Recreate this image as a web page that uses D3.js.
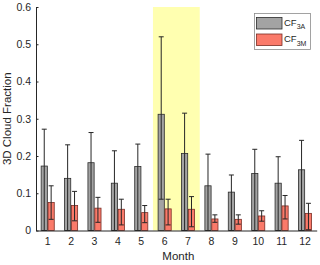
<!DOCTYPE html>
<html>
<head>
<meta charset="utf-8">
<script src="https://cdn.jsdelivr.net/npm/d3@7"></script>
<style>
  body { margin: 0; background: #fff; }
  text { font-family: "Liberation Sans", Arial, sans-serif; fill: #262626; }
</style>
</head>
<body>
<div id="chart"></div>
<script>
// monthly values
var months = [1, 2, 3, 4, 5, 6, 7, 8, 9, 10, 11, 12];
var cf3a = [0.173, 0.140, 0.182, 0.127, 0.172, 0.312, 0.207, 0.120, 0.103, 0.153, 0.127, 0.163];
var cf3aUpper = [0.272, 0.230, 0.263, 0.214, 0.232, 0.520, 0.315, 0.205, 0.149, 0.218, 0.198, 0.242];
var cf3aLower = [0, 0, 0, 0, 0, 0.084, 0, 0, 0, 0, 0, 0];
var cf3m = [0.075, 0.067, 0.060, 0.057, 0.048, 0.058, 0.057, 0.031, 0.030, 0.039, 0.066, 0.046];
var cf3mUpper = [0.120, 0.105, 0.089, 0.084, 0.067, 0.084, 0.091, 0.042, 0.042, 0.053, 0.094, 0.073];
var cf3mLower = [0.030, 0.026, 0.022, 0.015, 0.021, 0.015, 0.010, 0.022, 0.017, 0.025, 0.031, 0.002];
var yTicks = [0, 0.1, 0.2, 0.3, 0.4, 0.5, 0.6];
var highlight = [6, 7];   // shaded months

var width = 320, height = 265;
var margin = {top: 7, right: 3.3, bottom: 35, left: 36};

var svg = d3.select("#chart").append("svg")
    .attr("width", width)
    .attr("height", height);

var x = d3.scaleBand()
    .domain(months)
    .range([margin.left, width - margin.right])
    .paddingInner(0.44)
    .paddingOuter(0.22);
var xs = d3.scaleBand()
    .domain(["3A", "3M"])
    .range([0, x.bandwidth()])
    .paddingInner(0.1);
var y = d3.scaleLinear()
    .domain([0, 0.6])
    .range([height - margin.bottom + 0.5, margin.top]);

// shaded months band
var step = x.step();
svg.append("rect")
    .attr("x", x(highlight[0]) + x.bandwidth() / 2 - step / 2)
    .attr("y", y(0.6))
    .attr("width", step * highlight.length)
    .attr("height", y(0) - y(0.6))
    .style("fill", "#ffffb0");

var series = [
    {key: "3A", vals: cf3a, up: cf3aUpper, lo: cf3aLower, fill: "#a3a3a3", stroke: "#2b2b2b", err: "#262626"},
    {key: "3M", vals: cf3m, up: cf3mUpper, lo: cf3mLower, fill: "#fa7a6a", stroke: "#7a2d25", err: "#262626"}
];

series.forEach(function(s) {
    var cx = function(d, i) { return x(months[i]) + xs(s.key) + xs.bandwidth() / 2; };
    svg.selectAll(null)
        .data(s.vals)
        .enter()
        .append("rect")
            .attr("x", function(d, i) { return x(months[i]) + xs(s.key); })
            .attr("y", function(d) { return y(d); })
            .attr("width", xs.bandwidth())
            .attr("height", function(d) { return y(0) - y(d); })
            .style("fill", s.fill)
            .style("stroke", s.stroke)
            .style("stroke-width", 0.8);

    // error bars
    svg.selectAll(null)
        .data(s.vals)
        .enter()
        .append("line")
            .attr("x1", cx).attr("x2", cx)
            .attr("y1", function(d, i) { return y(s.up[i]); })
            .attr("y2", function(d, i) { return y(s.lo[i]); })
            .style("stroke", s.err)
            .style("stroke-width", 1);
    [s.up, s.lo].forEach(function(arr) {
        svg.selectAll(null)
            .data(arr)
            .enter()
            .append("line")
                .attr("x1", function(d, i) { return cx(d, i) - 2.5; })
                .attr("x2", function(d, i) { return cx(d, i) + 2.5; })
                .attr("y1", function(d) { return y(d); })
                .attr("y2", function(d) { return y(d); })
                .style("stroke", s.err)
                .style("stroke-width", 1);
    });
});

// axes
var yAxis = svg.append("g")
    .attr("transform", "translate(" + margin.left + ",0)")
    .call(d3.axisLeft(y).tickValues(yTicks).tickFormat(d3.format("")).tickSizeInner(-2.5).tickSizeOuter(0).tickPadding(5));
var xAxis = svg.append("g")
    .attr("transform", "translate(0," + y(0) + ")")
    .call(d3.axisBottom(x).tickSizeInner(0).tickSizeOuter(0).tickPadding(7));
[xAxis, yAxis].forEach(function(g) {
    g.select(".domain").style("stroke", "#262626").style("stroke-width", 1);
    g.selectAll(".tick line").style("stroke", "#262626");
    g.selectAll(".tick text").style("font-size", "10.5px").style("fill", "#262626");
});

svg.append("text")
    .attr("transform", "translate(11," + (y(0.3)) + ") rotate(-90)")
    .attr("text-anchor", "middle")
    .style("font-size", "11.5px")
    .text("3D Cloud Fraction");
svg.append("text")
    .attr("x", (margin.left + width - margin.right) / 2 + 2)
    .attr("y", 260)
    .attr("text-anchor", "middle")
    .style("font-size", "11.5px")
    .text("Month");

// legend
var legend = svg.append("g");
legend.append("rect")
    .attr("x", 254.5).attr("y", 13.5)
    .attr("width", 56).attr("height", 36)
    .style("fill", "#fff")
    .style("stroke", "#8c8c8c")
    .style("stroke-width", 0.8);
series.forEach(function(s, i) {
    var ly = 17.5 + i * 16.5;
    legend.append("rect")
        .attr("x", 256.5).attr("y", ly)
        .attr("width", 25.5).attr("height", 11.5)
        .style("fill", s.fill)
        .style("stroke", s.stroke)
        .style("stroke-width", 0.8);
    var t = legend.append("text")
        .attr("x", 284).attr("y", ly + 8)
        .style("font-size", "9.5px");
    t.append("tspan").text("CF");
    t.append("tspan").attr("dy", 3.5).style("font-size", "7px").text(s.key);
});
</script>
</body>
</html>
